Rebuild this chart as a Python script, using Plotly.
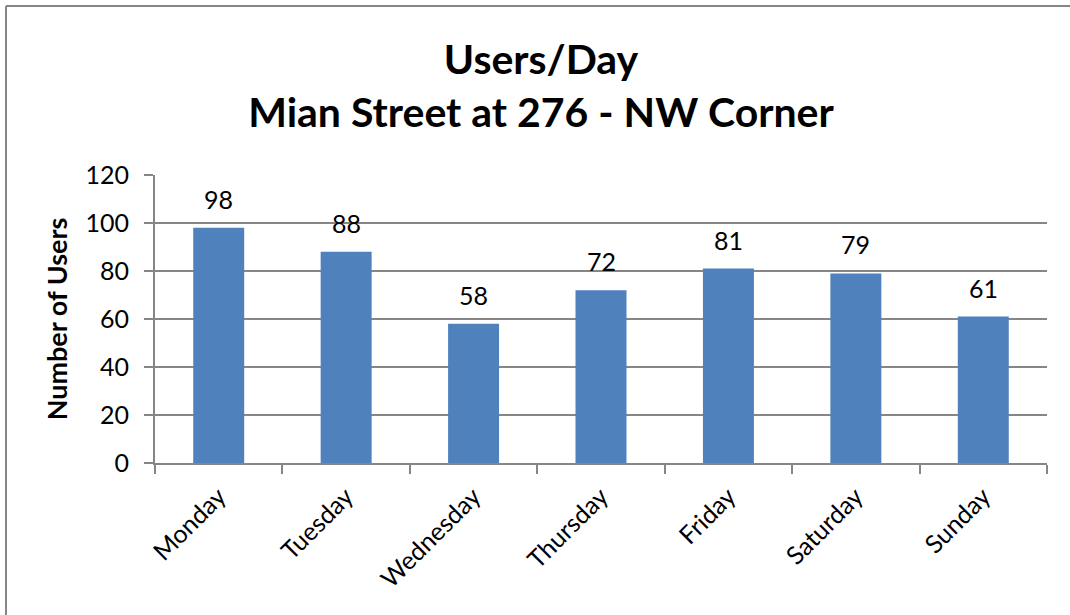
import plotly.graph_objects as go

days = ["Monday", "Tuesday", "Wednesday", "Thursday", "Friday", "Saturday", "Sunday"]
users = [98, 88, 58, 72, 81, 79, 61]
y_ticks = [0, 20, 40, 60, 80, 100, 120]

W, H = 1070, 615
L, R, T, B = 155, 23, 175, 152
pw, ph = W - L - R, H - T - B
GRAY = "#868686"

fig = go.Figure(go.Bar(
    x=days, y=users,
    marker=dict(color="#4F81BD", line=dict(width=0)),
    hoverinfo="x+y",
))

for d, v in zip(days, users):
    fig.add_annotation(
        x=d, y=v, text=str(v), showarrow=False,
        xref="x", yref="y", yanchor="middle", yshift=29,
        font=dict(family="Lato", size=25, color="#000000"),
    )

bx0 = (6 - L) / pw
bx1 = (W + 40 - L) / pw
by_top = 1 + (T - 6) / ph
by_bot = -(H + 40 - (T + ph)) / ph

fig.update_layout(
    width=W, height=H,
    margin=dict(l=L, r=R, t=T, b=B),
    paper_bgcolor="white", plot_bgcolor="white",
    bargap=0.6,
    showlegend=False,
    font=dict(family="Lato", color="#000000"),
    title=dict(
        text="Users/Day<br>Mian Street at 276 - NW Corner",
        font=dict(family="Lato", size=41, weight="bold", color="#000000"),
        x=541 / W, xanchor="center",
        y=1 - 74 / H, yanchor="middle",
    ),
    xaxis=dict(
        tickangle=-45,
        tickfont=dict(family="Lato", size=25),
        ticks="outside", tickson="boundaries", ticklen=9, tickwidth=2, tickcolor=GRAY,
        ticklabelstandoff=7,
        showline=True, linecolor=GRAY, linewidth=2,
        showgrid=False,
    ),
    yaxis=dict(
        range=[0, 120],
        tickvals=y_ticks,
        tickfont=dict(family="Lato", size=25),
        ticks="outside", ticklen=9, tickwidth=2, tickcolor=GRAY,
        ticklabelstandoff=10,
        showline=True, linecolor=GRAY, linewidth=2,
        showgrid=True, gridcolor=GRAY, gridwidth=2,
        zeroline=False,
        title=dict(text="Number of Users", font=dict(family="Lato", size=27, weight="bold"), standoff=10),
    ),
    shapes=[
        dict(type="line", xref="paper", yref="paper",
             x0=bx0, x1=bx1, y0=by_top, y1=by_top,
             line=dict(color=GRAY, width=2), layer="below"),
        dict(type="line", xref="paper", yref="paper",
             x0=bx0, x1=bx0, y0=by_top, y1=by_bot,
             line=dict(color=GRAY, width=2), layer="below"),
    ],
)

fig.write_html(
    "out.html",
    config={"displayModeBar": False},
    post_script="document.body.style.margin='0';document.body.style.overflow='hidden';",
)
